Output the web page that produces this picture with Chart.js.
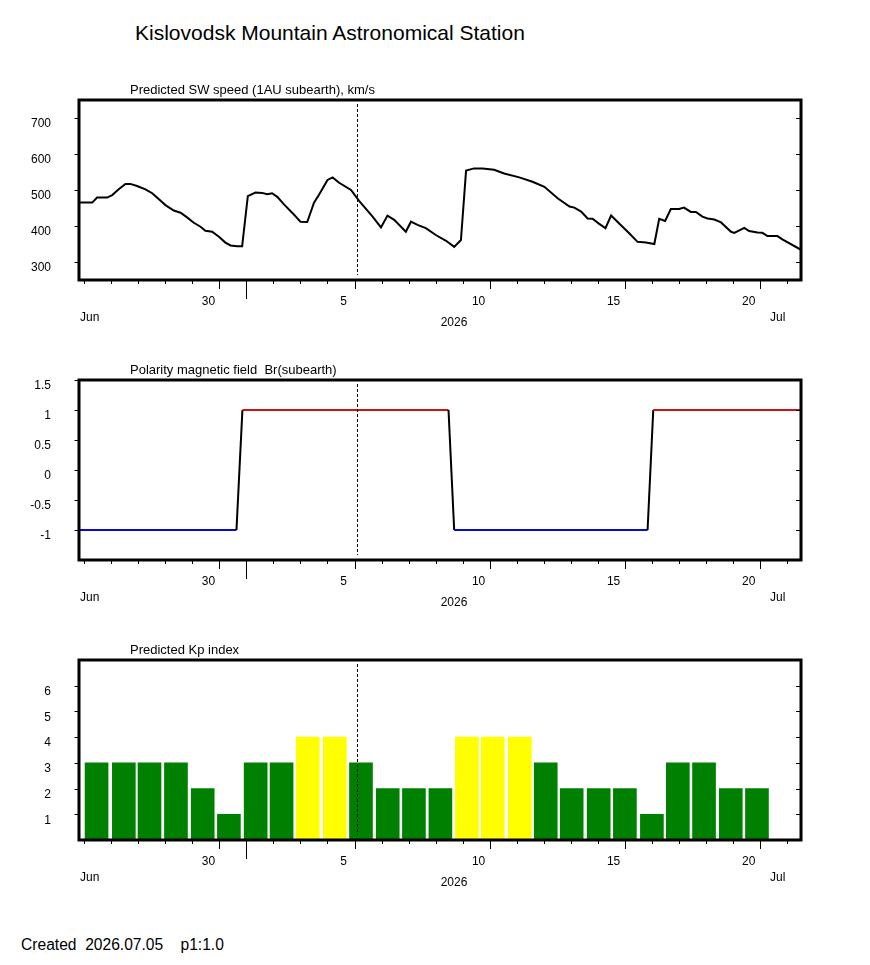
<!DOCTYPE html>
<html>
<head>
  <title>Kislovodsk Mountain Astronomical Station</title>
  <script src="https://cdn.jsdelivr.net/npm/chart.js"></script>
  <style>
    body { margin: 0; background: #fff; font-family: "Liberation Sans", Arial, sans-serif; color: #000; }
    #page { position: relative; width: 870px; height: 965px; }
    .panel { position: absolute; left: 0; }
    #title { position: absolute; left: 135px; top: 22px; font-size: 21px; line-height: 21px; white-space: nowrap; }
    #created { position: absolute; left: 21px; top: 937px; font-size: 15.6px; line-height: 15px; white-space: pre; }
  </style>
</head>
<body>
  <div id="page">
    <div id="title">Kislovodsk Mountain Astronomical Station</div>
    <canvas class="panel" id="swChart" width="870" height="276" style="top:64px"></canvas>
    <canvas class="panel" id="brChart" width="870" height="276" style="top:344px"></canvas>
    <canvas class="panel" id="kpChart" width="870" height="276" style="top:624px"></canvas>
    <div id="created">Created  2026.07.05    p1:1.0</div>
  </div>

  <script>
    // x values are days counted from 2026-06-25 00:00
    const xMin = -0.2;
    const xMax = 26.53;
    const nowDay = 10.11;

    const dayTicks = [0, 1, 2, 3, 4, 5, 6, 7, 8, 9, 10, 11, 12, 13, 14, 15, 16, 17, 18, 19, 20, 21, 22, 23, 24, 25, 26];
    const labelDays = [5, 10, 15, 20, 25];
    const labelText = ['30', '5', '10', '15', '20'];
    const monthDay = 6;
    const monthLabels = ['Jun', 'Jul'];
    const yearLabel = '2026';

    // Predicted SW speed, km/s
    const swDays = [-0.2, 0.29, 0.47, 0.84, 1.03, 1.27, 1.52, 1.70, 1.95, 2.26, 2.51, 2.76, 3.00, 3.31, 3.56,
      3.80, 4.05, 4.30, 4.48, 4.73, 4.98, 5.22, 5.41, 5.66, 5.84, 6.05, 6.33, 6.58, 6.77, 6.95, 7.14, 7.39,
      7.69, 8.00, 8.25, 8.50, 8.68, 9.00, 9.19, 9.43, 9.87, 10.17, 10.67, 10.98, 11.22, 11.47, 11.90, 12.09,
      12.33, 12.64, 13.01, 13.39, 13.69, 13.94, 14.13, 14.43, 14.74, 15.17, 15.54, 16.10, 16.59, 17.03,
      17.52, 17.96, 18.14, 18.39, 18.63, 18.81, 19.06, 19.29, 19.50, 19.80, 20.17, 20.48, 20.79, 21.10,
      21.28, 21.50, 21.71, 22.02, 22.20, 22.45, 22.64, 22.88, 23.07, 23.32, 23.57, 23.94, 24.06, 24.43,
      24.61, 24.92, 25.10, 25.29, 25.66, 25.84, 26.53];
    const swSpeed = [465, 465, 479, 479, 486, 502, 517, 517, 511, 502, 491, 474, 458, 443, 437,
      424, 409, 398, 387, 384, 370, 354, 346, 344, 344, 483, 493, 492, 488, 491, 481, 460,
      437, 412, 411, 465, 486, 528, 535, 520, 500, 470, 426, 396, 429, 417, 384, 412,
      403, 394, 375, 359, 342, 361, 554, 560, 560, 556, 546, 535, 523, 509,
      477, 454, 451, 440, 421, 420, 406, 394, 429, 407, 380, 356, 354, 350,
      420, 414, 447, 447, 451, 439, 439, 426, 421, 418, 410, 384, 381, 395,
      386, 382, 381, 372, 372, 363, 334];
    const swTicks = [300, 400, 500, 600, 700];

    // Polarity of Br(subearth)
    const brDays = [-0.2, 5.63, 5.85, 13.48, 13.69, 20.85, 21.06, 26.53];
    const brValue = [-1, -1, 1, 1, -1, -1, 1, 1];
    const brTicks = [-1, -0.5, 0, 0.5, 1, 1.5];

    // Predicted Kp index, one bar per day
    const kpDays = [0.45, 1.46, 2.41, 3.39, 4.38, 5.35, 6.34, 7.30, 8.27, 9.27, 10.24, 11.23, 12.20,
      13.18, 14.16, 15.12, 16.12, 17.08, 18.04, 19.04, 20.01, 21.01, 21.97, 22.94, 23.93, 24.90];
    const kpValue = [3, 3, 3, 3, 2, 1, 3, 3, 4, 4, 3, 2, 2, 2, 4, 4, 4, 3, 2, 2, 2, 1, 3, 3, 2, 2];
    const kpTicks = [1, 2, 3, 4, 5, 6];

    const fontFamily = '"Liberation Sans", Arial, sans-serif';
    Chart.defaults.font.family = fontFamily;
    Chart.defaults.font.size = 12;
    Chart.defaults.color = '#000';

    const panelDecor = {
      id: 'panelDecor',
      afterDatasetsDraw(chart, args, opts) {
        const { ctx, chartArea: a, scales: { x, y } } = chart;
        ctx.save();
        ctx.strokeStyle = '#000';
        ctx.fillStyle = '#000';

        // current time
        const nx = Math.round(x.getPixelForValue(nowDay)) + 0.5;
        ctx.lineWidth = 1;
        ctx.setLineDash([3, 2]);
        ctx.beginPath();
        ctx.moveTo(nx, a.top + 4);
        ctx.lineTo(nx, a.bottom - 5);
        ctx.stroke();
        ctx.setLineDash([]);

        // ticks
        ctx.beginPath();
        dayTicks.forEach(d => {
          const px = Math.round(x.getPixelForValue(d)) + 0.5;
          let len = 4;
          if (d === monthDay) len = 19;
          else if (labelDays.includes(d)) len = 9;
          ctx.moveTo(px, a.bottom);
          ctx.lineTo(px, a.bottom + len);
        });
        opts.yTicks.forEach(v => {
          const py = Math.round(y.getPixelForValue(v)) + 0.5;
          ctx.moveTo(a.left - 4.5, py);
          ctx.lineTo(a.left, py);
          ctx.moveTo(a.right - 5, py);
          ctx.lineTo(a.right, py);
        });
        ctx.stroke();

        // frame
        ctx.lineWidth = 3;
        ctx.strokeRect(a.left, a.top, a.right - a.left, a.bottom - a.top);

        // texts
        ctx.font = '13px ' + fontFamily;
        ctx.textAlign = 'left';
        ctx.textBaseline = 'alphabetic';
        ctx.fillText(opts.title, 130, a.top - 6.5);
        ctx.font = '12px ' + fontFamily;
        ctx.textBaseline = 'middle';
        ctx.fillText(monthLabels[0], a.left + 1, a.bottom + 38);
        ctx.fillText(monthLabels[1], a.right - 31, a.bottom + 38);
        ctx.textAlign = 'center';
        ctx.fillText(yearLabel, 454, a.bottom + 43);
        ctx.restore();
      }
    };

    function xScale() {
      return {
        type: 'linear',
        min: xMin,
        max: xMax,
        offset: false,
        grid: { display: false, drawTicks: false, tickLength: 0 },
        border: { display: false },
        afterBuildTicks: s => { s.ticks = labelDays.map(v => ({ value: v })); },
        afterFit: s => { s.height = 50; },
        ticks: {
          autoSkip: false,
          maxRotation: 0,
          padding: 14,
          labelOffset: -11,
          callback: v => labelText[labelDays.indexOf(v)]
        }
      };
    }

    function yScale(min, max, tickList) {
      return {
        type: 'linear',
        min: min,
        max: max,
        grid: { display: false, drawTicks: false, tickLength: 0 },
        border: { display: false },
        afterBuildTicks: s => { s.ticks = tickList.map(v => ({ value: v })); },
        afterFit: s => { s.width = 79; },
        ticks: {
          padding: 28,
          labelOffset: 6,
          callback: v => String(v)
        }
      };
    }

    function baseOptions(title, yOpts, tickList) {
      return {
        responsive: false,
        animation: false,
        events: [],
        layout: { padding: { left: 0, right: 69, top: 36, bottom: 10 } },
        plugins: {
          legend: { display: false },
          tooltip: { enabled: false },
          panelDecor: { title: title, yTicks: tickList }
        },
        scales: { x: xScale(), y: yOpts }
      };
    }

    new Chart(document.getElementById('swChart'), {
      type: 'line',
      data: {
        datasets: [{
          data: swDays.map((d, i) => ({ x: d, y: swSpeed[i] })),
          borderColor: '#000',
          borderWidth: 2,
          pointRadius: 0,
          tension: 0
        }]
      },
      options: baseOptions('Predicted SW speed (1AU subearth), km/s', yScale(250, 750, swTicks), swTicks),
      plugins: [panelDecor]
    });

    new Chart(document.getElementById('brChart'), {
      type: 'line',
      data: {
        datasets: [{
          data: brDays.map((d, i) => ({ x: d, y: brValue[i] })),
          borderColor: '#000',
          borderWidth: 2,
          pointRadius: 0,
          tension: 0,
          segment: {
            borderColor: c => {
              if (c.p0.parsed.y !== c.p1.parsed.y) return '#000';
              return c.p0.parsed.y > 0 ? '#c81414' : '#0a0ad2';
            }
          }
        }]
      },
      options: baseOptions('Polarity magnetic field  Br(subearth)', yScale(-1.5, 1.5, brTicks), brTicks),
      plugins: [panelDecor]
    });

    new Chart(document.getElementById('kpChart'), {
      type: 'bar',
      data: {
        datasets: [{
          data: kpDays.map((d, i) => ({ x: d, y: kpValue[i] })),
          backgroundColor: kpValue.map(v => v >= 5 ? '#ff0000' : (v >= 4 ? '#ffff00' : '#008000')),
          borderWidth: 0,
          barThickness: 23
        }]
      },
      options: baseOptions('Predicted Kp index', yScale(0, 7, kpTicks), kpTicks),
      plugins: [panelDecor]
    });
  </script>
</body>
</html>
